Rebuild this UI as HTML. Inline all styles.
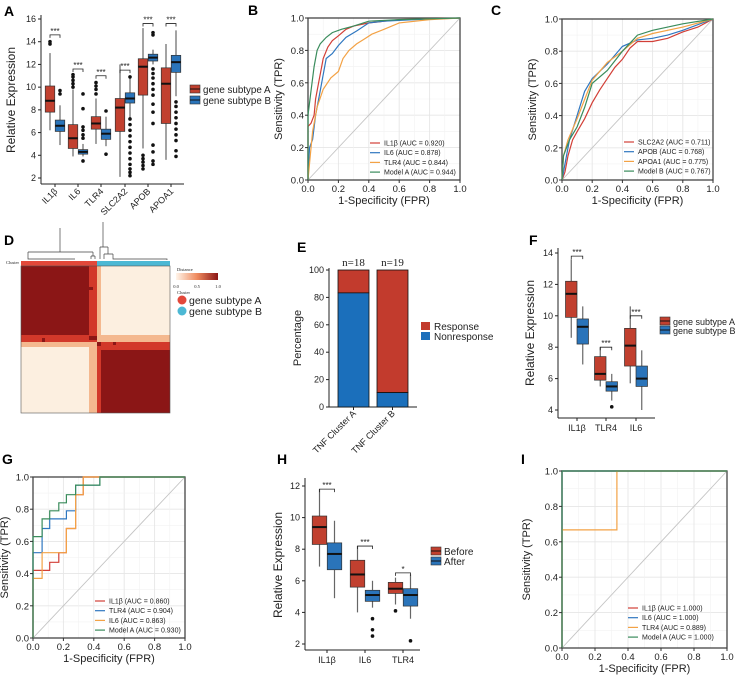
<!DOCTYPE html>
<html><head><meta charset="utf-8">
<style>
html,body{margin:0;padding:0;background:#fff;}
svg{display:block;font-family:"Liberation Sans",Arial,sans-serif;}
</style></head>
<body>
<svg id="fig" width="736" height="679" viewBox="0 0 736 679" xmlns="http://www.w3.org/2000/svg"></svg>
<script>
// ===== DATA =====
// Panel A
const aCats = ["IL1β","IL6","TLR4","SLC2A2","APOB","APOA1"];
const aRed = [[6.2,7.8,8.8,10.1,13.0],[3.9,4.6,5.5,6.7,9.8],[5.0,6.3,6.8,7.4,9.0],[2.1,6.1,8.2,9.0,12.0],[4.6,9.3,11.8,12.5,15.2],[3.6,6.8,10.3,11.7,13.8]];
const aBlue = [[4.9,6.1,6.6,7.1,8.4],[3.9,4.1,4.3,4.5,5.0],[4.8,5.4,5.9,6.3,7.4],[7.3,8.6,9.0,9.5,10.8],[12.0,12.3,12.6,12.9,13.3],[9.2,11.3,12.2,12.8,15.0]];
const aRedOut = [[13.8,14.0],[10.0,10.3,10.6,10.9,11.1],[9.4,9.8,10.1,10.4],[],[2.8,3.1,3.4,3.7,4.0],[]];
const aBlueOut = [[9.4,9.7],[3.5,5.5,5.8,6.2,6.5,8.1,9.4],[4.1,7.9],[2.2,2.5,2.8,3.2,3.7,4.2,4.7,5.2,5.7,6.2,6.7,7.2,10.9],[3.2,3.5,4.3,4.9,6.8,7.8,8.5,9.3,9.8,10.3,10.8,11.2,11.6,14.6,14.8],[3.9,4.4,5.3,5.8,6.3,6.8,7.3,7.8,8.3,8.7]];
const aSig = [14.6,11.6,11.0,11.5,15.6,15.6];
const aSigLbl = ["***","***","***","***","***","***"];
const aTicks = [2,4,6,8,10,12,14,16];
// Panel F
const fCats = ["IL1β","TLR4","IL6"];
const fRed = [[8.6,9.9,11.4,12.2,13.6],[5.5,5.9,6.3,7.4,8.0],[5.7,6.8,8.1,9.2,10.6]];
const fBlue = [[6.9,8.2,9.3,9.8,10.6],[4.6,5.2,5.5,5.8,6.3],[4.0,5.5,6.0,6.8,7.8]];
const fRedOut = [[],[],[]];
const fBlueOut = [[],[4.2],[]];
const fSig = [13.8,8.0,10.0];
const fSigLbl = ["***","***","***"];
const fTicks = [4,6,8,10,12,14];
// Panel H
const hCats = ["IL1β","IL6","TLR4"];
const hRed = [[6.9,8.3,9.4,10.1,11.8],[4.0,5.6,6.4,7.3,8.2],[4.5,5.2,5.5,5.9,6.2]];
const hBlue = [[4.9,6.7,7.7,8.4,9.8],[4.3,4.7,5.1,5.4,6.0],[3.6,4.4,5.1,5.5,6.4]];
const hRedOut = [[],[],[4.1]];
const hBlueOut = [[],[3.6,2.9,2.5],[2.2]];
const hSig = [11.8,8.2,6.5];
const hSigLbl = ["***","***","*"];
const hTicks = [2,4,6,8,10,12];
// Panel E
const eCats = ["TNF Cluster A","TNF Cluster B"];
const eNonresp = [83.3,10.5];
const eN = ["n=18","n=19"];
const eTicks = [0,20,40,60,80,100];
// ROC B
const bNames = ["IL1β (AUC = 0.920)","IL6 (AUC = 0.878)","TLR4 (AUC = 0.844)","Model A (AUC = 0.944)"];
const bIL1bFpr = [0,0,0.02,0.04,0.05,0.07,0.09,0.1,0.13,0.16,0.2,0.25,0.3,0.4,0.6,1];
const bIL1bTpr = [0,0.33,0.35,0.4,0.5,0.6,0.7,0.75,0.82,0.86,0.89,0.93,0.95,0.97,0.99,1];
const bIL6Fpr = [0,0.01,0.03,0.05,0.08,0.1,0.12,0.16,0.2,0.25,0.32,0.4,0.5,0.7,1];
const bIL6Tpr = [0,0.2,0.25,0.4,0.55,0.65,0.75,0.78,0.83,0.88,0.92,0.97,0.98,0.99,1];
const bTLR4Fpr = [0,0.01,0.03,0.06,0.1,0.15,0.2,0.23,0.27,0.32,0.37,0.42,0.5,0.6,0.8,1];
const bTLR4Tpr = [0,0.1,0.3,0.45,0.56,0.63,0.67,0.75,0.8,0.84,0.87,0.9,0.93,0.97,0.99,1];
const bModFpr = [0,0,0.02,0.04,0.06,0.08,0.12,0.16,0.22,0.3,0.4,0.6,1];
const bModTpr = [0,0.4,0.55,0.7,0.8,0.84,0.88,0.91,0.93,0.95,0.98,0.99,1];
// ROC C
const cNames = ["SLC2A2 (AUC = 0.711)","APOB (AUC = 0.768)","APOA1 (AUC = 0.775)","Model B (AUC = 0.767)"];
const cSlcFpr = [0,0.02,0.04,0.07,0.1,0.15,0.2,0.25,0.3,0.35,0.4,0.45,0.5,0.6,0.7,0.8,0.9,1];
const cSlcTpr = [0,0.05,0.15,0.25,0.3,0.38,0.48,0.56,0.63,0.7,0.75,0.82,0.86,0.86,0.88,0.92,0.95,1];
const cApobFpr = [0,0.02,0.05,0.1,0.15,0.2,0.3,0.4,0.5,0.6,0.7,0.8,1];
const cApobTpr = [0,0.1,0.25,0.4,0.55,0.63,0.72,0.83,0.87,0.88,0.9,0.93,1];
const cApoaFpr = [0,0.01,0.04,0.1,0.15,0.2,0.3,0.4,0.5,0.6,0.8,1];
const cApoaTpr = [0,0.15,0.25,0.38,0.5,0.62,0.73,0.8,0.88,0.91,0.95,1];
const cModFpr = [0,0.01,0.05,0.1,0.15,0.2,0.3,0.4,0.5,0.6,0.8,1];
const cModTpr = [0,0.15,0.25,0.33,0.45,0.6,0.68,0.8,0.9,0.93,0.97,1];
// ROC G
const gNames = ["IL1β (AUC = 0.860)","TLR4 (AUC = 0.904)","IL6 (AUC = 0.863)","Model A (AUC = 0.930)"];
const gIL1bFpr = [0,0,0.11,0.11,0.17,0.17,0.22,0.22,0.28,0.28,0.33,0.33,1];
const gIL1bTpr = [0,0.42,0.42,0.47,0.47,0.53,0.53,0.68,0.68,0.89,0.89,1,1];
const gTLR4Fpr = [0,0,0.06,0.06,0.11,0.11,0.22,0.22,0.28,0.28,0.44,0.44,1];
const gTLR4Tpr = [0,0.53,0.53,0.68,0.68,0.74,0.74,0.79,0.79,0.95,0.95,1,1];
const gIL6Fpr = [0,0,0.06,0.06,0.22,0.22,0.28,0.28,0.33,0.33,1];
const gIL6Tpr = [0,0.37,0.37,0.53,0.53,0.68,0.68,0.89,0.89,1,1];
const gModFpr = [0,0,0.06,0.06,0.11,0.11,0.17,0.17,0.22,0.22,0.28,0.28,0.44,0.44,1];
const gModTpr = [0,0.63,0.63,0.74,0.74,0.79,0.79,0.84,0.84,0.89,0.89,0.95,0.95,1,1];
// ROC I
const iNames = ["IL1β  (AUC = 1.000)","IL6 (AUC = 1.000)","TLR4 (AUC = 0.889)","Model A (AUC = 1.000)"];
const iIL1bFpr = [0,0,1]; const iIL1bTpr = [0,1,1];
const iIL6Fpr = [0,0,1]; const iIL6Tpr = [0,1,1];
const iTLR4Fpr = [0,0,0.333,0.333,1]; const iTLR4Tpr = [0,0.667,0.667,1,1];
const iModFpr = [0,0,1]; const iModTpr = [0,1,1];
const rocTicks = [0,0.2,0.4,0.6,0.8,1.0];

// ===== HELPERS =====
const NS = "http://www.w3.org/2000/svg";
const svg = document.getElementById("fig");
const RED = "#c1402f", BLUE = "#2a74ba";
const RC = ["#d23f37","#2f77c0","#f3a245","#3a8c5c"];
function mk(tag, attrs, parent, name, inter) {
  const e = document.createElementNS(NS, tag);
  for (const k in attrs) e.setAttribute(k, attrs[k]);
  
  
  (parent || svg).appendChild(e);
  return e;
}
function txt(x, y, s, size, parent, name, extra) {
  const a = Object.assign({x: x, y: y, "font-size": size, fill: "#222"}, extra || {});
  const e = mk("text", a, parent, name, false);
  e.textContent = s;
  return e;
}
function group(name) { return mk("g", {}, svg, name, false); }

// ===== Panel letters =====
const letters = [["A",4,16],["B",248,15],["C",491,15],["D",4,245],["E",297,252],["F",529,245],["G",2,464],["H",277,464],["I",521,464]];
for (const L of letters) {
  txt(L[1], L[2], L[0], 14, svg, "panel-label-" + L[0].toLowerCase(), {"font-weight": "bold", fill: "#000"});
}

// ===== BOX PANEL =====
function boxPanel(cfg) {
  const g = group(cfg.name);
  const y = v => cfg.py0 + (v - cfg.v0) * (cfg.py1 - cfg.py0) / (cfg.v1 - cfg.v0);
  mk("line", {x1: cfg.ax, y1: cfg.axTop, x2: cfg.ax, y2: cfg.xaxY, stroke: "#222", "stroke-width": 1}, g, "y-axis-line");
  mk("line", {x1: cfg.ax, y1: cfg.xaxY, x2: cfg.xaxEnd, y2: cfg.xaxY, stroke: "#222", "stroke-width": 1}, g, "x-axis-line");
  for (const t of cfg.ticks) {
    mk("line", {x1: cfg.ax - 3, y1: y(t), x2: cfg.ax, y2: y(t), stroke: "#222"}, g, "y-tick");
    txt(cfg.ax - 5, y(t) + 3, String(t), 9, g, "y-tick-label", {"text-anchor": "end"});
  }
  txt(0, 0, cfg.ylabel, 12, g, "y-axis-title", {"text-anchor": "middle", transform: `translate(${cfg.ylx},${cfg.yly}) rotate(-90)`});
  cfg.cats.forEach((c, i) => {
    const cx = cfg.centers[i];
    mk("line", {x1: cx, y1: cfg.xaxY, x2: cx, y2: cfg.xaxY + 3, stroke: "#222"}, g, "x-tick");
    if (cfg.rot) {
      txt(0, 0, c, 9, g, "x-tick-label", {"text-anchor": "end", transform: `translate(${cx + 3},${cfg.xaxY + 8}) rotate(-45)`});
    } else {
      txt(cx, cfg.xaxY + 13, c, 9, g, "x-tick-label", {"text-anchor": "middle"});
    }
    [[cfg.red[i], cfg.redOut[i], RED, -1], [cfg.blue[i], cfg.blueOut[i], BLUE, 1]].forEach(([d, out, col, s]) => {
      const bx = cx + s * cfg.off;
      mk("line", {x1: bx, y1: y(d[0]), x2: bx, y2: y(d[4]), stroke: "#666", "stroke-width": 1.2}, g, "box-whisker");
      mk("rect", {x: bx - cfg.bw / 2, y: y(d[3]), width: cfg.bw, height: y(d[1]) - y(d[3]), fill: col, stroke: "#333", "stroke-width": 0.7}, g, "box-body");
      mk("line", {x1: bx - cfg.bw / 2, y1: y(d[2]), x2: bx + cfg.bw / 2, y2: y(d[2]), stroke: "#111", "stroke-width": 2}, g, "box-median");
      for (const o of out) mk("circle", {cx: bx, cy: y(o), r: 1.8, fill: "#111"}, g, "outlier-point");
    });
    const sy = y(cfg.sig[i]);
    const x1 = cx - cfg.off, x2 = cx + cfg.off;
    mk("path", {d: `M${x1},${sy + 3}V${sy}H${x2}V${sy + 3}`, fill: "none", stroke: "#222", "stroke-width": 0.8}, g, "significance-bracket");
    txt(cx, sy - 1, cfg.sigLbl[i], 8, g, "significance-label", {"text-anchor": "middle"});
  });
  cfg.legend.forEach((l, i) => {
    const ly = cfg.legY + i * cfg.legDy;
    mk("rect", {x: cfg.legX, y: ly - 4, width: 10, height: 8, fill: i ? BLUE : RED, stroke: "#333", "stroke-width": 0.6}, g, "legend-key");
    mk("line", {x1: cfg.legX, y1: ly, x2: cfg.legX + 10, y2: ly, stroke: "#111"}, g, "legend-key-line");
    txt(cfg.legX + 13, ly + 4, l, cfg.legFs, g, "legend-entry");
  });
}
boxPanel({name: "panel-a-boxplot", ax: 41, axTop: 15, xaxY: 184, xaxEnd: 184, v0: 2, v1: 16, py0: 178, py1: 19, ticks: aTicks,
  cats: aCats, centers: [55, 78, 101, 125, 148, 171], off: 5, bw: 9.5, red: aRed, blue: aBlue, redOut: aRedOut, blueOut: aBlueOut,
  sig: aSig, sigLbl: aSigLbl, ylabel: "Relative Expression", ylx: 15, yly: 100, rot: true, legend: ["gene subtype A", "gene subtype B"], legX: 190, legY: 89, legDy: 11, legFs: 9.8});
boxPanel({name: "panel-f-boxplot", ax: 558, axTop: 248, xaxY: 418, xaxEnd: 655, v0: 4, v1: 14, py0: 410, py1: 253, ticks: fTicks,
  cats: fCats, centers: [577, 606, 636], off: 5.75, bw: 11.5, red: fRed, blue: fBlue, redOut: fRedOut, blueOut: fBlueOut,
  sig: fSig, sigLbl: fSigLbl, ylabel: "Relative Expression", ylx: 534, yly: 333, rot: false, legend: ["gene subtype A", "gene subtype B"], legX: 660, legY: 321, legDy: 9, legFs: 9});
boxPanel({name: "panel-h-boxplot", ax: 305, axTop: 478, xaxY: 650, xaxEnd: 420, v0: 2, v1: 12, py0: 644, py1: 486, ticks: hTicks,
  cats: hCats, centers: [327, 365, 403], off: 7.5, bw: 14.5, red: hRed, blue: hBlue, redOut: hRedOut, blueOut: hBlueOut,
  sig: hSig, sigLbl: hSigLbl, ylabel: "Relative Expression", ylx: 282, yly: 565, rot: false, legend: ["Before", "After"], legX: 431, legY: 551, legDy: 10, legFs: 10});

// ===== ROC PANEL =====
function rocPanel(cfg) {
  const g = group(cfg.name);
  const X = v => cfg.x0 + v * (cfg.x1 - cfg.x0);
  const Y = v => cfg.y0 + v * (cfg.y1 - cfg.y0);
  mk("rect", {x: cfg.x0, y: cfg.y1, width: cfg.x1 - cfg.x0, height: cfg.y0 - cfg.y1, fill: "#fff"}, g, "plot-background");
  for (let k = 1; k < 10; k++) {
    const v = k / 10, maj = k % 2 === 0;
    mk("line", {x1: X(v), y1: cfg.y1, x2: X(v), y2: cfg.y0, stroke: maj ? "#e6e6e6" : "#f2f2f2", "stroke-width": maj ? 0.9 : 0.6}, g, "grid-line-x");
    mk("line", {x1: cfg.x0, y1: Y(v), x2: cfg.x1, y2: Y(v), stroke: maj ? "#e6e6e6" : "#f2f2f2", "stroke-width": maj ? 0.9 : 0.6}, g, "grid-line-y");
  }
  mk("line", {x1: X(0), y1: Y(0), x2: X(1), y2: Y(1), stroke: "#c4c4c4", "stroke-width": 0.9}, g, "diagonal-reference");
  mk("rect", {x: cfg.x0, y: cfg.y1, width: cfg.x1 - cfg.x0, height: cfg.y0 - cfg.y1, fill: "none", stroke: "#444", "stroke-width": 1.3}, g, "plot-border");
  cfg.series.forEach((s, i) => {
    const d = s[0].map((f, j) => (j ? "L" : "M") + X(f).toFixed(1) + "," + Y(s[1][j]).toFixed(1)).join("");
    mk("path", {d: d, fill: "none", stroke: RC[i], "stroke-width": 1.2}, g, "roc-curve-" + (i + 1));
  });
  for (const t of rocTicks) {
    mk("line", {x1: X(t), y1: cfg.y0, x2: X(t), y2: cfg.y0 + 3, stroke: "#333"}, g, "x-tick");
    txt(X(t), cfg.y0 + 12, t.toFixed(1), 9.5, g, "x-tick-label", {"text-anchor": "middle"});
    mk("line", {x1: cfg.x0 - 3, y1: Y(t), x2: cfg.x0, y2: Y(t), stroke: "#333"}, g, "y-tick");
    txt(cfg.x0 - 4, Y(t) + 3.5, t.toFixed(1), 9.5, g, "y-tick-label", {"text-anchor": "end"});
  }
  txt((cfg.x0 + cfg.x1) / 2, cfg.y0 + 24, "1-Specificity (FPR)", 11, g, "x-axis-title", {"text-anchor": "middle"});
  txt(0, 0, "Sensitivity (TPR)", 11, g, "y-axis-title", {"text-anchor": "middle", transform: `translate(${cfg.ylx},${(cfg.y0 + cfg.y1) / 2}) rotate(-90)`});
  cfg.names.forEach((n, i) => {
    const ly = cfg.legY + i * 9.7;
    mk("line", {x1: cfg.legX, y1: ly, x2: cfg.legX + 10, y2: ly, stroke: RC[i], "stroke-width": 1.2}, g, "legend-key");
    txt(cfg.legX + 14, ly + 2.5, n, 7, g, "legend-entry");
  });
}
rocPanel({name: "panel-b-roc", x0: 308, x1: 460, y0: 180, y1: 18, ylx: 282, legX: 370, legY: 143, names: bNames,
  series: [[bIL1bFpr, bIL1bTpr], [bIL6Fpr, bIL6Tpr], [bTLR4Fpr, bTLR4Tpr], [bModFpr, bModTpr]]});
rocPanel({name: "panel-c-roc", x0: 562, x1: 713, y0: 180, y1: 19, ylx: 536, legX: 624, legY: 142, names: cNames,
  series: [[cSlcFpr, cSlcTpr], [cApobFpr, cApobTpr], [cApoaFpr, cApoaTpr], [cModFpr, cModTpr]]});
rocPanel({name: "panel-g-roc", x0: 33, x1: 185, y0: 638, y1: 477, ylx: 8, legX: 95, legY: 601, names: gNames,
  series: [[gIL1bFpr, gIL1bTpr], [gTLR4Fpr, gTLR4Tpr], [gIL6Fpr, gIL6Tpr], [gModFpr, gModTpr]]});
rocPanel({name: "panel-i-roc", x0: 562, x1: 727, y0: 648, y1: 471, ylx: 530, legX: 628, legY: 608, names: iNames,
  series: [[iIL1bFpr, iIL1bTpr], [iIL6Fpr, iIL6Tpr], [iTLR4Fpr, iTLR4Tpr], [iModFpr, iModTpr]]});

// ===== Panel E stacked bars =====
(function () {
  const g = group("panel-e-stacked-bar");
  const Y = v => 407 + v * (270 - 407) / 100;
  const bx = [338, 377], bw = 31;
  mk("line", {x1: 329, y1: 268, x2: 329, y2: 407, stroke: "#222"}, g, "y-axis-line");
  mk("line", {x1: 329, y1: 407, x2: 417, y2: 407, stroke: "#222"}, g, "x-axis-line");
  for (const t of eTicks) {
    mk("line", {x1: 326, y1: Y(t), x2: 329, y2: Y(t), stroke: "#222"}, g, "y-tick");
    txt(324, Y(t) + 3, String(t), 9, g, "y-tick-label", {"text-anchor": "end"});
  }
  txt(0, 0, "Percentage", 11, g, "y-axis-title", {"text-anchor": "middle", transform: "translate(301,338) rotate(-90)"});
  eCats.forEach((c, i) => {
    mk("rect", {x: bx[i], y: Y(100), width: bw, height: Y(eNonresp[i]) - Y(100), fill: "#c23b2d", stroke: "#111", "stroke-width": 0.8}, g, "bar-response");
    mk("rect", {x: bx[i], y: Y(eNonresp[i]), width: bw, height: Y(0) - Y(eNonresp[i]), fill: "#1b6fbb", stroke: "#111", "stroke-width": 0.8}, g, "bar-nonresponse");
    txt(bx[i] + bw / 2, 266, eN[i], 11, g, "bar-count-label", {"text-anchor": "middle", "font-family": "Liberation Serif, serif"});
    mk("line", {x1: bx[i] + bw / 2, y1: 407, x2: bx[i] + bw / 2, y2: 410, stroke: "#222"}, g, "x-tick");
    txt(0, 0, c, 9, g, "x-tick-label", {"text-anchor": "end", transform: `translate(${bx[i] + bw / 2 + 3},${414}) rotate(-45)`});
  });
  mk("rect", {x: 421, y: 322, width: 9, height: 8, fill: "#c23b2d"}, g, "legend-key");
  txt(434, 330, "Response", 10, g, "legend-entry");
  mk("rect", {x: 421, y: 332, width: 9, height: 8, fill: "#1b6fbb"}, g, "legend-key");
  txt(434, 340, "Nonresponse", 10, g, "legend-entry");
})();

// ===== Panel D heatmap =====
(function () {
  const g = group("panel-d-consensus-heatmap");
  const DR = "#8b1616", LT = "#fcefe0", MR = "#d2382a", OR = "#f4b88f";
  mk("path", {d: "M60,228V252M28,252H93M28,252V256M93,252V256M91,256H95M91,256V259M95,256V259M28,256V259H75", fill: "none", stroke: "#444", "stroke-width": 0.7}, g, "dendrogram-left");
  mk("path", {d: "M103,222V247M100,247H108M100,247V259M108,247V254M104,254H113M104,254V259M113,254V259H167V260", fill: "none", stroke: "#444", "stroke-width": 0.7}, g, "dendrogram-right");
  txt(6, 264, "Cluster", 4.5, g, "cluster-bar-label", {"font-family": "Liberation Serif, serif"});
  mk("rect", {x: 21, y: 261, width: 76, height: 5, fill: "#e2483a"}, g, "cluster-bar-a");
  mk("rect", {x: 97, y: 261, width: 73, height: 5, fill: "#4cb8d4"}, g, "cluster-bar-b");
  const cells = [
    [21, 266, 68, 69, DR], [89, 266, 8, 69, MR], [97, 266, 4, 69, OR], [101, 266, 69, 69, LT],
    [21, 335, 76, 7, MR], [97, 335, 73, 7, OR],
    [21, 342, 76, 5, OR], [97, 342, 73, 5, MR],
    [21, 347, 68, 66, LT], [89, 347, 8, 66, OR], [97, 347, 4, 66, MR], [101, 350, 69, 63, DR], [101, 347, 69, 3, MR],
    [42, 338, 3, 4, DR], [89, 336, 8, 4, DR], [97, 342, 4, 4, DR], [113, 342, 3, 3, DR], [88, 287, 5, 3, DR]
  ];
  for (const c of cells) mk("rect", {x: c[0], y: c[1], width: c[2], height: c[3], fill: c[4]}, g, "heatmap-cell");
  mk("rect", {x: 21, y: 266, width: 149, height: 147, fill: "none", stroke: "#555", "stroke-width": 0.6}, g, "heatmap-border");
  txt(177, 271, "Distance", 4.5, g, "colorbar-title", {"font-family": "Liberation Serif, serif"});
  const grad = mk("linearGradient", {id: "dgrad", x1: 0, x2: 1, y1: 0, y2: 0}, g, "colorbar-gradient");
  mk("stop", {offset: "0", "stop-color": "#fff5ea"}, grad, "gradient-stop");
  mk("stop", {offset: "0.5", "stop-color": "#ef8a5e"}, grad, "gradient-stop");
  mk("stop", {offset: "1", "stop-color": "#8b1616"}, grad, "gradient-stop");
  mk("rect", {x: 176, y: 273, width: 42, height: 7, fill: "url(#dgrad)"}, g, "colorbar");
  txt(176, 288, "0.0", 4.5, g, "colorbar-tick", {"text-anchor": "middle", "font-family": "Liberation Serif, serif"});
  txt(197, 288, "0.5", 4.5, g, "colorbar-tick", {"text-anchor": "middle", "font-family": "Liberation Serif, serif"});
  txt(218, 288, "1.0", 4.5, g, "colorbar-tick", {"text-anchor": "middle", "font-family": "Liberation Serif, serif"});
  txt(177, 294, "Cluster", 4.5, g, "cluster-legend-title", {"font-family": "Liberation Serif, serif"});
  mk("circle", {cx: 182, cy: 300, r: 4.5, fill: "#e2483a"}, g, "legend-key");
  txt(189, 304, "gene subtype A", 10.5, g, "legend-entry");
  mk("circle", {cx: 182, cy: 311, r: 4.5, fill: "#4cb8d4"}, g, "legend-key");
  txt(189, 315, "gene subtype B", 10.5, g, "legend-entry");
})();
</script>
</body></html>
